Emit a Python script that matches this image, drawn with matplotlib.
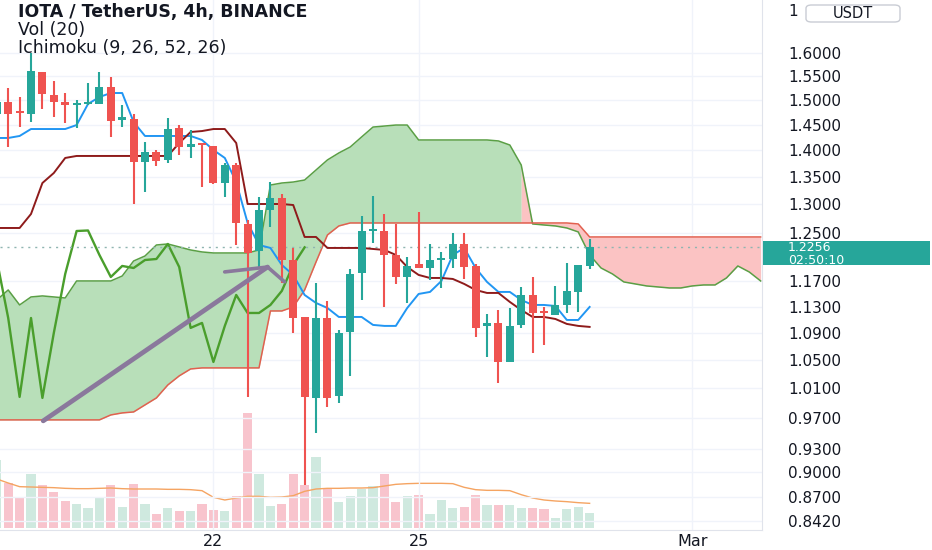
import numpy as np
import pandas as pd
import matplotlib
matplotlib.use('Agg')
import matplotlib.pyplot as plt
from matplotlib.patches import Rectangle, FancyBboxPatch
from matplotlib.ticker import FixedLocator, NullLocator, FuncFormatter

# ==========================================
# 1. Data
# ==========================================
start = pd.Timestamp('2022-02-18 20:00')   # first (partly hidden) candle

opens = [1.4716, 1.4960, 1.4746, 1.4716, 1.5588, 1.5104, 1.4960, 1.4889, 1.4920, 1.4920,
         1.5271, 1.4595, 1.4615, 1.3779, 1.3969, 1.3817, 1.4436, 1.4065, 1.4142, 1.4084,
         1.3387, 1.3722, 1.2656, 1.2195, 1.2901, 1.3115, 1.2045, 1.1140, 0.9969, 1.1124,
         0.9997, 1.0913, 1.1833, 1.2526, 1.2534, 1.2129, 1.1768, 1.1980, 1.1914, 1.2045,
         1.2062, 1.2313, 1.1947, 1.1004, 1.1049, 1.0473, 1.1019, 1.1481, 1.1232, 1.1170,
         1.1325, 1.1529, 1.1947]
highs = [1.5104, 1.5250, 1.5063, 1.6000, 1.5588, 1.5397, 1.5146, 1.5001, 1.5355, 1.5588,
         1.5482, 1.4899, 1.4716, 1.4161, 1.4007, 1.4635, 1.4495, 1.4397, 1.4142, 1.4084,
         1.3760, 1.3760, 1.2725, 1.3133, 1.3405, 1.3187, 1.2246, 1.1140, 1.1672, 1.1387,
         1.0943, 1.1898, 1.2795, 1.3151, 1.2830, 1.2656, 1.2096, 1.2866, 1.2313, 1.2179,
         1.2500, 1.2500, 1.1980, 1.1186, 1.1247, 1.1278, 1.1608, 1.1768, 1.1294, 1.1624,
         1.1996, 1.1963, 1.2398]
lows = [1.4655, 1.4065, 1.4455, 1.4555, 1.4818, 1.4655, 1.4535, 1.4436, 1.4899, 1.4920,
        1.4260, 1.4455, 1.3007, 1.3223, 1.3703, 1.3760, 1.3912, 1.3855, 1.3314, 1.3369,
        1.3133, 1.2296, 0.9983, 1.1914, 1.2604, 1.1672, 1.0898, 0.8848, 0.9502, 0.9847,
        0.9901, 1.0275, 1.1403, 1.2330, 1.1294, 1.1656, 1.1356, 1.1914, 1.1720, 1.1592,
        1.1914, 1.1736, 1.0838, 1.0545, 1.0176, 1.0473, 1.0974, 1.0603, 1.0721, 1.1170,
        1.1201, 1.1216, 1.1898]
closes = [1.4960, 1.4716, 1.4736, 1.5610, 1.5125, 1.4960, 1.4899, 1.4909, 1.4960, 1.5271,
          1.4575, 1.4655, 1.3779, 1.3969, 1.3798, 1.4416, 1.4065, 1.4123, 1.4103, 1.3387,
          1.3722, 1.2673, 1.2162, 1.2901, 1.3115, 1.2045, 1.1124, 0.9983, 1.1124, 0.9969,
          1.0898, 1.1817, 1.2534, 1.2543, 1.2129, 1.1768, 1.1947, 1.1914, 1.2045, 1.2062,
          1.2313, 1.1930, 1.0974, 1.1049, 1.0473, 1.1004, 1.1481, 1.1201, 1.1201, 1.1325,
          1.1545, 1.1963, 1.2256]

# volume (thousand IOTA) and its 20-bar moving average
volume_k = [205, 135, 92, 163, 130, 107, 82, 72, 59, 92, 130, 64, 133, 73, 41, 60, 50, 50,
            72, 54, 50, 96, 346, 163, 65, 73, 161, 130, 213, 120, 78, 95, 117, 125, 161, 78,
            97, 100, 43, 83, 59, 62, 100, 70, 70, 70, 59, 61, 57, 29, 58, 64, 45]
vol_ma20 = [147, 135, 124, 123, 122, 121, 119, 118, 118, 119, 120, 118, 117, 117, 117, 116,
            116, 115, 112, 92, 84, 90, 95, 95, 92, 93, 97, 110, 117, 119, 119, 120, 120, 121,
            126, 131, 133, 134, 134, 134, 133, 122, 115, 113, 113, 112, 100, 90, 84, 81, 79,
            76, 74]

# Ichimoku (9, 26, 52, 26)
tenkan = [1.4240, 1.4240, 1.4279, 1.4416, 1.4416, 1.4416, 1.4416, 1.4495, 1.4920, 1.5063,
          1.5146, 1.5146, 1.4555, 1.4279, 1.4279, 1.4279, 1.4279, 1.4279, 1.4201, 1.4007,
          1.3855, 1.3405, 1.2673, 1.2296, 1.2246, 1.1963, 1.1801, 1.1481, 1.1356, 1.1278,
          1.1140, 1.1140, 1.1140, 1.1019, 1.1004, 1.1004, 1.1278, 1.1497, 1.1529, 1.1704,
          1.2129, 1.2246, 1.1914, 1.1688, 1.1529, 1.1529, 1.1403, 1.1325, 1.1325, 1.1309,
          1.1094, 1.1094, 1.1294]
kijun = [1.2586, 1.2586, 1.2586, 1.2830, 1.3387, 1.3572, 1.3855, 1.3893, 1.3893, 1.3893,
         1.3893, 1.3893, 1.3893, 1.3893, 1.3893, 1.3893, 1.4142, 1.4357, 1.4376, 1.4416,
         1.4416, 1.4142, 1.3007, 1.3007, 1.3007, 1.3007, 1.2989, 1.2432, 1.2432, 1.2246,
         1.2246, 1.2246, 1.2246, 1.2229, 1.2212, 1.2129, 1.1930, 1.1801, 1.1752, 1.1752,
         1.1736, 1.1656, 1.1560, 1.1513, 1.1513, 1.1372, 1.1247, 1.1140, 1.1140, 1.1109,
         1.1034, 1.1004, 1.0989]
# leading spans, already displaced 25 bars forward (68 points)
senkou_a = [1.1403, 1.1560, 1.1325, 1.1450, 1.1466, 1.1450, 1.1434, 1.1704, 1.1704, 1.1704,
            1.1704, 1.1784, 1.2029, 1.2112, 1.2296, 1.2313, 1.2263, 1.2212, 1.2179, 1.2162,
            1.2162, 1.2162, 1.2162, 1.2212, 1.3350, 1.3387, 1.3405, 1.3442, 1.3628, 1.3817,
            1.3950, 1.4065, 1.4260, 1.4455, 1.4475, 1.4495, 1.4495, 1.4201, 1.4201, 1.4201,
            1.4201, 1.4201, 1.4201, 1.4201, 1.4182, 1.4103, 1.3722, 1.2656, 1.2638, 1.2621,
            1.2586, 1.2518, 1.2129, 1.1914, 1.1817, 1.1688, 1.1656, 1.1624, 1.1608, 1.1592,
            1.1592, 1.1624, 1.1640, 1.1640, 1.1752, 1.1947, 1.1849, 1.1704]
senkou_b = [0.9673] * 10 + [0.9739, 0.9766, 0.9779, 0.9874, 0.9969, 1.0148, 1.0275, 1.0373] \
    + [1.0388] * 6 + [1.1232, 1.1232, 1.1294, 1.1560, 1.2013, 1.2466, 1.2621] \
    + [1.2673] * 20 + [1.2656] + [1.2432] * 16

# trend line drawn by the user (bar index, price) and its arrow head
trend_x = [4.07, 23.75]
trend_y = [0.966, 1.193]
head_x = [19.99, 23.75, 25.24]
head_y = [1.185, 1.193, 1.169]

price_ticks = [1.60, 1.55, 1.50, 1.45, 1.40, 1.35, 1.30, 1.25, 1.17, 1.13, 1.09,
               1.05, 1.01, 0.97, 0.93, 0.90, 0.87, 0.842]
date_ticks = ['2022-02-22', '2022-02-25', '2022-03-01']
date_labels = ['22', '25', 'Mar']
countdown = '02:50:10'

# ==========================================
# 2. Styling
# ==========================================
UP, DOWN = '#26a69a', '#ef5350'
VOL_UP, VOL_DOWN = '#cfe9df', '#f8c4cd'
CLOUD_UP, CLOUD_DOWN = '#b8dfb9', '#fbc3c3'
TXT = '#131722'
GRID = '#f0f3fa'

o = np.array(opens); h = np.array(highs); l = np.array(lows); c = np.array(closes)
a = np.array(senkou_a); b = np.array(senkou_b)
x = np.arange(len(c))
xc = np.arange(len(a))
up = c >= o
cols = np.where(up, UP, DOWN)

W, H = 932, 550
fig = plt.figure(figsize=(W / 100, H / 100), dpi=100)
fig.patch.set_facecolor('white')
rect = [0, 20 / H, 762 / W, 530 / H]

# volume pane underneath
ax_v = fig.add_axes(rect)
ax_v.bar(x, volume_k, width=0.8, color=np.where(up, VOL_UP, VOL_DOWN), linewidth=0)
ax_v.plot(x, vol_ma20, color='#f5a462', lw=1)
ax_v.set_ylim(-6, 1584)
ax_v.set_yticks([])
ax_v.tick_params(axis='x', length=0, labelbottom=False)
for s in ax_v.spines.values():
    s.set_visible(False)

# price pane on top
ax = fig.add_axes(rect, sharex=ax_v)
ax.patch.set_alpha(0)
ax.set_yscale('log')

# Ichimoku cloud, each segment coloured by its right-hand bar
seg_up = a[1:] > b[1:]
where_up = np.zeros(len(a), bool); where_dn = np.zeros(len(a), bool)
where_up[:-1] |= seg_up; where_up[1:] |= seg_up
where_dn[:-1] |= ~seg_up; where_dn[1:] |= ~seg_up
ax.fill_between(xc, a, b, where=where_up, color=CLOUD_UP, lw=0, zorder=1)
ax.fill_between(xc, a, b, where=where_dn, color=CLOUD_DOWN, lw=0, zorder=1)
ax.plot(xc, a, color='#5a9f45', lw=1.1, zorder=2)
ax.plot(xc, b, color='#e2604f', lw=1.1, zorder=2)

# lagging span = closes shifted 25 bars back
lag = c[25:]
ax.plot(np.arange(len(lag)), lag, color='#4a9e2c', lw=1.7, zorder=3)
ax.plot(x, tenkan, color='#2196f3', lw=1.4, zorder=4)
ax.plot(x, kijun, color='#8e1b1b', lw=1.4, zorder=4)

# candles
body_lo = np.minimum(o, c)
body_hi = np.maximum(np.maximum(o, c), body_lo * 1.003)
ax.vlines(x, l, h, colors=cols, lw=1.5, zorder=5)
ax.bar(x, body_hi - body_lo, bottom=body_lo, width=0.7, color=cols, linewidth=0, zorder=6)

# drawn trend arrow
ax.plot(trend_x, trend_y, color='#8a789c', lw=3.4, solid_capstyle='round', zorder=7)
ax.plot(head_x, head_y, color='#8a789c', lw=2.6, solid_capstyle='round', zorder=7)

# last price line
ax.axhline(c[-1], color='#8fb5b1', lw=1, ls=(0, (1.5, 3.5)), zorder=3)

# axes
ax.set_xlim(0.28, 67.12)
ax.set_ylim(0.8317, 1.7207)
ax.yaxis.set_major_locator(FixedLocator(price_ticks))
ax.yaxis.set_minor_locator(NullLocator())
ax.yaxis.set_major_formatter(FuncFormatter(lambda v, _: f'{v:.4f}'))
ax.yaxis.tick_right()
tick_pos = [(pd.Timestamp(d) - start) / pd.Timedelta(hours=4) for d in date_ticks]
ax.set_xticks(tick_pos)
ax.set_xticklabels(date_labels)
ax.tick_params(axis='y', length=0, pad=19, labelsize=11, labelcolor=TXT)
ax.tick_params(axis='x', length=0, pad=3, labelsize=11.5, labelcolor=TXT)
ax.grid(True, color=GRID, lw=1)
ax.set_axisbelow(True)
for side in ['top', 'left']:
    ax.spines[side].set_visible(False)
ax.spines['right'].set_color('#e0e3eb')
ax.spines['bottom'].set_color('#e0e3eb')

# legend texts
fig.text(18 / W, 1 - 12 / H, 'IOTA / TetherUS, 4h, BINANCE', fontsize=12.5,
         fontweight='bold', color=TXT, va='center')
fig.text(18 / W, 1 - 30 / H, 'Vol (20)', fontsize=12.5, color=TXT, va='center')
fig.text(18 / W, 1 - 48 / H, 'Ichimoku (9, 26, 52, 26)', fontsize=12.5, color=TXT, va='center')

# price tag on the scale (one two-line label)
ypix = ax.transData.transform((0, c[-1]))[1]
fig.add_artist(Rectangle((763 / W, (ypix - 18) / H), 167 / W, 24 / H,
                         transform=fig.transFigure, fc=UP, ec='none', zorder=5))
fig.text(788 / W, (ypix - 6.5) / H, f'{c[-1]:.4f}\n{countdown}', color='white',
         fontsize=9, va='center', linespacing=0.95, zorder=6)

# currency button, with the top scale label peeking out beside it
fig.text(788 / W, 1 - 11 / H, '1', color=TXT, fontsize=11, va='center')
fig.add_artist(FancyBboxPatch((806 / W, 1 - 22 / H), 94 / W, 17 / H,
                              boxstyle='round,pad=0,rounding_size=0.006',
                              transform=fig.transFigure, fc='white', ec='#c9ccd4',
                              lw=1, zorder=5))
fig.text(853 / W, 1 - 13.5 / H, 'USDT', color=TXT, fontsize=10.5, ha='center',
         va='center', zorder=6)

fig.savefig('out.png', dpi=100)
